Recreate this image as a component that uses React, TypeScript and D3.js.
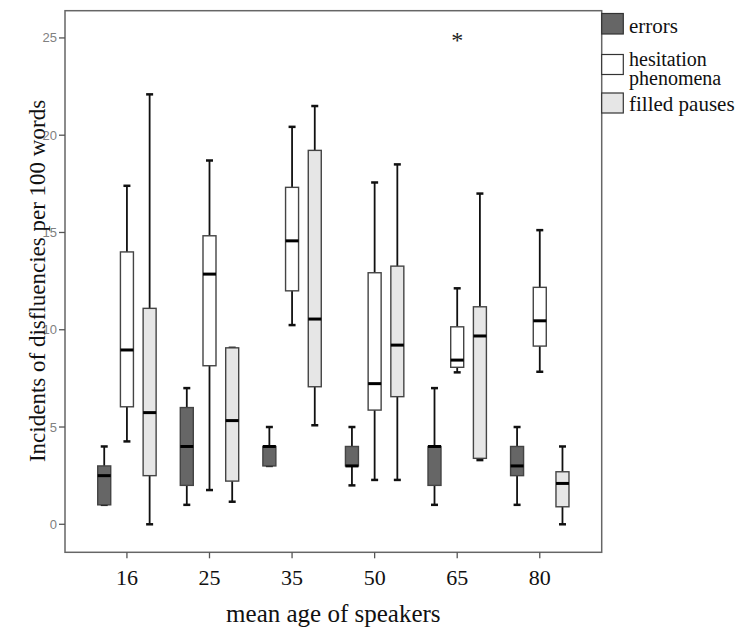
import React from 'react';
import * as d3 from 'd3';

// mean age groups on the x axis
const ages = ['16', '25', '35', '50', '65', '80'];
const seriesNames = ['errors', 'hesitation phenomena', 'filled pauses'];
const yTicks = [0, 5, 10, 15, 20, 25];

// five-number summaries per series, one value per age group
const errorsMin = [1, 1, 3, 2, 1, 1];
const errorsQ1 = [1, 2, 3, 3, 2, 2.5];
const errorsMed = [2.5, 4, 4, 3, 4, 3];
const errorsQ3 = [3, 6, 4, 4, 4, 4];
const errorsMax = [4, 7, 5, 5, 7, 5];

const hesMin = [4.26, 1.76, 10.24, 2.28, 7.81, 7.84];
const hesQ1 = [6.04, 8.15, 12.0, 5.87, 8.07, 9.16];
const hesMed = [8.96, 12.86, 14.57, 7.23, 8.44, 10.46];
const hesQ3 = [14.0, 14.83, 17.32, 12.93, 10.15, 12.18];
const hesMax = [17.4, 18.7, 20.43, 17.57, 12.13, 15.12];

const fpMin = [0, 1.16, 5.09, 2.28, 3.3, 0];
const fpQ1 = [2.5, 2.22, 7.07, 6.56, 3.39, 0.9];
const fpMed = [5.74, 5.33, 10.55, 9.21, 9.68, 2.1];
const fpQ3 = [11.1, 9.07, 19.22, 13.27, 11.18, 2.7];
const fpMax = [22.1, 9.07, 21.5, 18.5, 17.0, 4.0];

// extreme values: [age, series index, value]
const extremes: [string, number, number][] = [['65', 1, 25]];

const fills = ['#666666', '#ffffff', '#e6e6e6'];

const width = 747,
  height = 631;
const left = 65,
  right = 601.7,
  top = 10.7,
  bottom = 552.3;

export default function App() {
  const x = d3.scalePoint<string>().domain(ages).range([left, right]).padding(0.75);
  const y = d3.scaleLinear().domain([-1.44, 26.4]).range([bottom, top]);

  const series = [
    { min: errorsMin, q1: errorsQ1, med: errorsMed, q3: errorsQ3, max: errorsMax },
    { min: hesMin, q1: hesQ1, med: hesMed, q3: hesQ3, max: hesMax },
    { min: fpMin, q1: fpQ1, med: fpMed, q3: fpQ3, max: fpMax },
  ];
  const offsets = [-22.7, 0, 22.7];
  const bw = 13;
  const capW = 7;

  return (
    <svg width={width} height={height} style={{ position: 'absolute', left: 0, top: 0 }}
      fontFamily="'Liberation Serif', 'Times New Roman', serif">
      <rect width={width} height={height} fill="#fff" />

      {series.map((s, si) => (
        <g key={si}>
          {ages.map((a, i) => {
            const cx = (x(a) as number) + offsets[si];
            return (
              <g key={a}>
                <line x1={cx} x2={cx} y1={y(s.max[i])} y2={y(s.q3[i])} stroke="#111" strokeWidth={1.8} />
                <line x1={cx} x2={cx} y1={y(s.q1[i])} y2={y(s.min[i])} stroke="#111" strokeWidth={1.8} />
                <line x1={cx - capW / 2} x2={cx + capW / 2} y1={y(s.max[i])} y2={y(s.max[i])} stroke="#111" strokeWidth={2.5} />
                <line x1={cx - capW / 2} x2={cx + capW / 2} y1={y(s.min[i])} y2={y(s.min[i])} stroke="#111" strokeWidth={2.5} />
                <rect x={cx - bw / 2} width={bw} y={y(s.q3[i])} height={Math.max(0.5, y(s.q1[i]) - y(s.q3[i]))}
                  fill={fills[si]} stroke="#444" strokeWidth={1.4} />
                <line x1={cx - bw / 2} x2={cx + bw / 2} y1={y(s.med[i])} y2={y(s.med[i])} stroke="#000" strokeWidth={3} />
              </g>
            );
          })}
        </g>
      ))}

      {extremes.map(([a, si, v], i) => (
        <text key={i} x={(x(a) as number) + offsets[si]} y={y(v) + 10} textAnchor="middle" fontSize={24} fill="#222">*</text>
      ))}

      {/* frame */}
      <rect x={left} y={top} width={right - left} height={bottom - top} fill="none" stroke="#666" strokeWidth={1.5} />

      {/* y axis */}
      {yTicks.map((t) => (
        <g key={t}>
          <line x1={left - 6} x2={left} y1={y(t)} y2={y(t)} stroke="#555" strokeWidth={1.3} />
          <text x={left - 8} y={y(t) + 4.5} textAnchor="end" fontSize={13} fill="#808080"
            fontFamily="'Liberation Sans', Arial, sans-serif">{t}</text>
        </g>
      ))}

      {/* x axis */}
      {ages.map((a) => (
        <g key={a}>
          <line x1={x(a)} x2={x(a)} y1={bottom} y2={bottom + 6} stroke="#555" strokeWidth={1.3} />
          <text x={x(a)} y={585} textAnchor="middle" fontSize={22} fill="#111">{a}</text>
        </g>
      ))}

      <text x={(left + right) / 2} y={622} textAnchor="middle" fontSize={25} fill="#111">mean age of speakers</text>
      <text transform="translate(45, 281) rotate(-90)" textAnchor="middle" fontSize={23} fill="#111">
        Incidents of disfluencies per 100 words
      </text>

      {/* legend */}
      <rect x={right} y={13.5} width={21.6} height={20.5} fill={fills[0]} stroke="#333" strokeWidth={1.2} />
      <text x={629} y={33} fontSize={21} fill="#111">{seriesNames[0]}</text>
      <rect x={right} y={54.5} width={21.6} height={20} fill={fills[1]} stroke="#333" strokeWidth={1.2} />
      <text x={629} y={66} fontSize={20} fill="#111">hesitation</text>
      <text x={629} y={85} fontSize={20} fill="#111">phenomena</text>
      <rect x={right} y={93} width={21.6} height={20} fill={fills[2]} stroke="#333" strokeWidth={1.2} />
      <text x={629} y={111} fontSize={21} fill="#111">{seriesNames[2]}</text>
    </svg>
  );
}
